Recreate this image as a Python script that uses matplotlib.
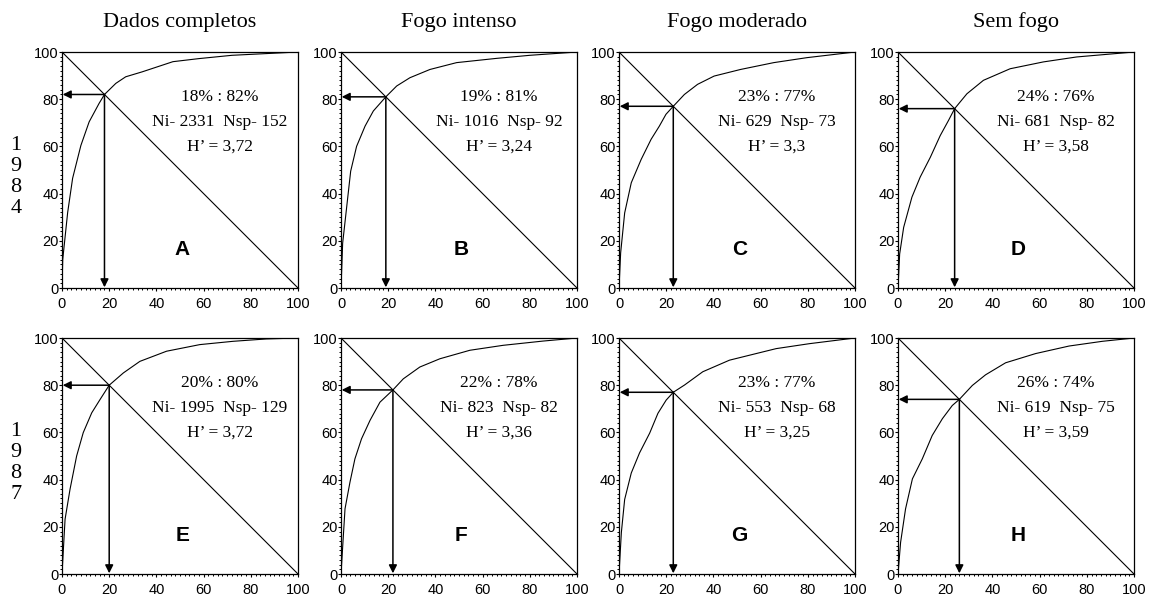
import matplotlib
matplotlib.use("Agg")
import matplotlib.pyplot as plt
from matplotlib.ticker import MultipleLocator

plt.rcParams['font.family'] = ['Liberation Sans', 'DejaVu Sans']

colTitles = ['Dados completos', 'Fogo intenso', 'Fogo moderado', 'Sem fogo']
years = ['1984', '1987']
panelLetters = ['A', 'B', 'C', 'D', 'E', 'F', 'G', 'H']

# cumulative % species (x) vs cumulative % individuals (y)
curveX = [
    [0, 0.3, 2.4, 4.5, 8, 11.5, 15.7, 18, 22.8, 27, 34, 47, 58, 72, 86, 100],
    [0, 0.7, 4.1, 6.6, 10.2, 13.7, 19, 23.6, 29.2, 37.7, 49, 65.9, 80, 100],
    [0, 0.7, 2.4, 5.2, 9.4, 13.6, 17.1, 19.9, 23, 27.7, 33.3, 40.3, 51.5, 65.6, 79.6, 100],
    [0, 0.7, 2.4, 5.9, 9.4, 13.7, 17.9, 21.4, 24, 29.2, 36.2, 47.5, 61.6, 75.7, 100],
    [0, 1.3, 3.4, 6.2, 9, 12.6, 16.1, 20, 26, 33, 44.3, 58.4, 72.5, 86.6, 100],
    [0, 1.7, 3.8, 5.9, 8.7, 12.3, 16.5, 22, 26.4, 33.4, 41.9, 54.6, 68.7, 85.6, 100],
    [0, 1, 2.4, 5.2, 8.7, 13, 16.5, 20, 23, 27.8, 35.5, 46.8, 58.1, 66.6, 80.7, 100],
    [0, 1.1, 3.2, 6.1, 10.3, 14.5, 18.8, 23, 26, 31.5, 37.1, 45.6, 58.3, 72.5, 86.6, 100],
]
curveY = [
    [0, 12, 32, 46.5, 60.4, 70.4, 78.2, 82, 86.7, 89.5, 91.6, 95.9, 97.2, 98.6, 99.3, 100],
    [0, 19, 49.5, 60, 68.6, 75, 81, 85.6, 89.1, 92.6, 95.5, 97.3, 98.6, 100],
    [0, 14.9, 31.8, 44.6, 54.5, 63, 68.6, 73.6, 77, 82, 86.3, 89.8, 92.6, 95.5, 97.6, 100],
    [0, 14.4, 25.7, 38.5, 47, 55.4, 64.6, 71, 76, 82.3, 88, 92.9, 95.8, 97.9, 100],
    [0, 23.2, 35.9, 50, 59.9, 68.3, 73.9, 80, 85.2, 90.1, 94.4, 97.2, 98.6, 99.6, 100],
    [0, 27.6, 38.9, 48.8, 57.3, 65.1, 72.8, 78, 82.7, 87.7, 91.2, 94.8, 96.9, 98.7, 100],
    [0, 17.6, 31.6, 42.8, 51.3, 59.7, 68.1, 73.7, 77, 80.1, 85.7, 90.6, 93.4, 95.5, 97.6, 100],
    [0, 13.4, 27.6, 40.3, 48.8, 58.7, 65.8, 71.4, 74, 79.9, 84.4, 89.5, 93.4, 96.6, 98.6, 100],
]

# crossing point with the diagonal: x% of species hold y% of individuals
crossX = [18, 19, 23, 24, 20, 22, 23, 26]
crossY = [82, 81, 77, 76, 80, 78, 77, 74]
ni = [2331, 1016, 629, 681, 1995, 823, 553, 619]
nsp = [152, 92, 73, 82, 129, 82, 68, 75]
shannon = ['3,72', '3,24', '3,3', '3,58', '3,72', '3,36', '3,25', '3,59']

fig = plt.figure(figsize=(11.5, 5.97), dpi=100)
W, H = 1150.0, 597.0
colLeft = [62, 341, 619, 898]
rowTop = [52, 338]
axW, axH = 236, 236

serif = ['Liberation Serif', 'DejaVu Serif']

for i in range(8):
    r, c = divmod(i, 4)
    ax = fig.add_axes([colLeft[c] / W, 1 - (rowTop[r] + axH) / H, axW / W, axH / H])
    ax.set_xlim(0, 100)
    ax.set_ylim(0, 100)
    ax.plot(curveX[i], curveY[i], color='k', lw=0.8)
    ax.plot([0, 100], [100, 0], color='k', lw=0.8)
    arrow = dict(arrowstyle='-|>', color='k', lw=1.1, mutation_scale=12,
                 shrinkA=0, shrinkB=0)
    ax.annotate('', xy=(0.3, crossY[i]), xytext=(crossX[i], crossY[i]), arrowprops=arrow)
    ax.annotate('', xy=(crossX[i], 0.3), xytext=(crossX[i], crossY[i]), arrowprops=arrow)

    ax.text(67, 81, '%d%% : %d%%' % (crossX[i], crossY[i]), ha='center', va='center',
            fontsize=12.5, family=serif)
    ax.text(67, 70.5, 'Ni- %d  Nsp- %d' % (ni[i], nsp[i]), ha='center', va='center',
            fontsize=12.5, family=serif)
    ax.text(67, 60, 'H\u2019 = %s' % shannon[i], ha='center', va='center',
            fontsize=12.5, family=serif)
    ax.text(51, 16.5, panelLetters[i], ha='center', va='center', fontsize=15,
            fontweight='bold')

    ax.xaxis.set_major_locator(MultipleLocator(20))
    ax.yaxis.set_major_locator(MultipleLocator(20))
    ax.xaxis.set_minor_locator(MultipleLocator(2))
    ax.yaxis.set_minor_locator(MultipleLocator(2))
    ax.tick_params(which='major', direction='out', length=2.5, width=0.8,
                   labelsize=10.5)
    ax.tick_params(which='minor', direction='out', length=1.6, width=0.7)
    ax.tick_params(axis='x', which='major', pad=4)
    ax.tick_params(axis='y', which='major', pad=0)
    for s in ax.spines.values():
        s.set_linewidth(0.9)

    if r == 0:
        fig.text((colLeft[c] + axW / 2) / W, 1 - 22 / H, colTitles[c], ha='center',
                 va='center', fontsize=16, family=serif)

for r in range(2):
    fig.text(16 / W, 1 - (rowTop[r] + 125) / H, '\n'.join(years[r]), ha='center',
             va='center', fontsize=16, family=serif, linespacing=1.15)

fig.savefig('out.png', dpi=100)
